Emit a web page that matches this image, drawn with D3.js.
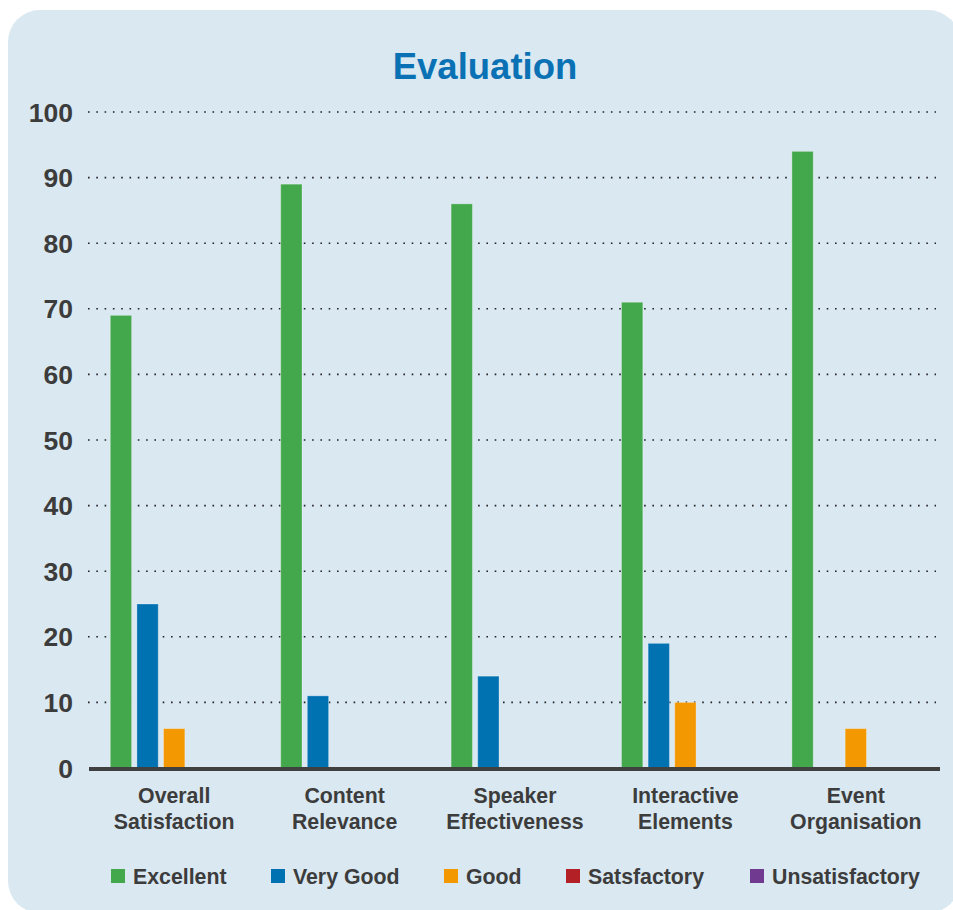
<!DOCTYPE html>
<html>
<head>
<meta charset="utf-8">
<script src="https://cdn.jsdelivr.net/npm/d3@7"></script>
<style>
  body { margin: 0; background: #ffffff; overflow: hidden; }
  svg { display: block; font-family: "Liberation Sans", Arial, Helvetica, sans-serif; }
</style>
</head>
<body>
<svg id="chart" width="953" height="910"></svg>
<script>
// data
var categories = [["Overall", "Satisfaction"], ["Content", "Relevance"], ["Speaker", "Effectiveness"], ["Interactive", "Elements"], ["Event", "Organisation"]];
var series_names = ["Excellent", "Very Good", "Good", "Satsfactory", "Unsatisfactory"];
var excellent = [69, 89, 86, 71, 94];
var very_good = [25, 11, 14, 19, 0];
var good = [6, 0, 0, 10, 6];
var satisfactory = [0, 0, 0, 0, 0];
var unsatisfactory = [0, 0, 0, 0, 0];
var y_ticks = [0, 10, 20, 30, 40, 50, 60, 70, 80, 90, 100];

var series_colors = ["#43a84b", "#0071b1", "#f39800", "#b32025", "#6f3a90"];
var text_color = "#3c3c3c";
var panel_color = "#d9e8f1";

var all_values = [excellent, very_good, good, satisfactory, unsatisfactory];

var plot_left = 89;
var plot_right = 940;
var plot_top = 112;
var plot_bottom = 768;

const svg = d3.select("#chart");

// background panel, runs off the right and bottom edges
svg.append("rect")
    .attr("x", 8)
    .attr("y", 10)
    .attr("width", 952)
    .attr("height", 903)
    .attr("rx", 32)
    .attr("fill", panel_color);

svg.append("text")
    .text("Evaluation")
    .attr("x", 485)
    .attr("y", 79)
    .attr("text-anchor", "middle")
    .attr("font-size", 36.5)
    .attr("font-weight", "bold")
    .attr("fill", "#0a72b4");

var y = d3.scaleLinear().domain([0, 100]).range([plot_bottom, plot_top]);

var x = d3.scaleBand()
    .domain(d3.range(categories.length))
    .range([plot_left, plot_right + 1])
    .padding(0);

var x_sub = d3.scaleBand()
    .domain(d3.range(series_names.length))
    .range([0, x.bandwidth()])
    .paddingInner(0.2)
    .paddingOuter(0.8);

// dotted grid lines
svg.append("g")
    .selectAll(".grid")
    .data(y_ticks.filter(d => d > 0))
    .enter()
    .append("line")
    .attr("class", "grid")
    .attr("x1", 88)
    .attr("x2", 936)
    .attr("y1", d => y(d))
    .attr("y2", d => y(d))
    .attr("stroke", "#222")
    .attr("stroke-width", 1.6)
    .attr("stroke-dasharray", "1.6,6.7");

// y labels
svg.append("g")
    .selectAll(".ylab")
    .data(y_ticks)
    .enter()
    .append("text")
    .attr("class", "ylab")
    .text(d => d)
    .attr("x", 73)
    .attr("y", d => y(d) + 9.5)
    .attr("text-anchor", "end")
    .attr("font-size", 26.5)
    .attr("font-weight", "bold")
    .attr("fill", text_color);

// bars
var groups = svg.append("g")
    .selectAll(".grp")
    .data(categories)
    .enter()
    .append("g")
    .attr("class", "grp")
    .attr("transform", (d, i) => "translate(" + x(i) + ",0)");

groups.selectAll("rect")
    .data((d, i) => all_values.map((s, j) => ({ s: j, v: s[i] })))
    .enter()
    .filter(d => d.v > 0)
    .append("rect")
    .attr("x", d => x_sub(d.s))
    .attr("width", x_sub.bandwidth())
    .attr("y", d => y(d.v))
    .attr("height", d => y(0) - y(d.v))
    .attr("fill", d => series_colors[d.s])
    .attr("stroke", "#ffffff")
    .attr("stroke-opacity", 0.3)
    .attr("stroke-width", 1);

// baseline
svg.append("line")
    .attr("x1", plot_left)
    .attr("x2", plot_right)
    .attr("y1", 769)
    .attr("y2", 769)
    .attr("stroke", "#404040")
    .attr("stroke-width", 4);

// category labels
var cat_text = svg.append("g")
    .selectAll(".cat")
    .data(categories)
    .enter()
    .append("text")
    .attr("class", "cat")
    .attr("text-anchor", "middle")
    .attr("font-size", 21.3)
    .attr("font-weight", "bold")
    .attr("fill", text_color);

cat_text.selectAll("tspan")
    .data((d, i) => d.map(t => ({ t: t, i: i })))
    .enter()
    .append("tspan")
    .text(d => d.t)
    .attr("x", d => x(d.i) + x.bandwidth() / 2)
    .attr("y", (d, k) => 803 + k * 26);

// legend
var legend_x = [111, 271, 444, 566, 750];
var legend = svg.append("g")
    .selectAll(".leg")
    .data(series_names)
    .enter()
    .append("g")
    .attr("class", "leg")
    .attr("transform", (d, i) => "translate(" + legend_x[i] + ",869)");

legend.append("rect")
    .attr("width", 14)
    .attr("height", 14)
    .attr("fill", (d, i) => series_colors[i]);

legend.append("text")
    .text(d => d)
    .attr("x", 22)
    .attr("y", 14.5)
    .attr("font-size", 21.3)
    .attr("font-weight", "bold")
    .attr("fill", text_color);
</script>
</body>
</html>
